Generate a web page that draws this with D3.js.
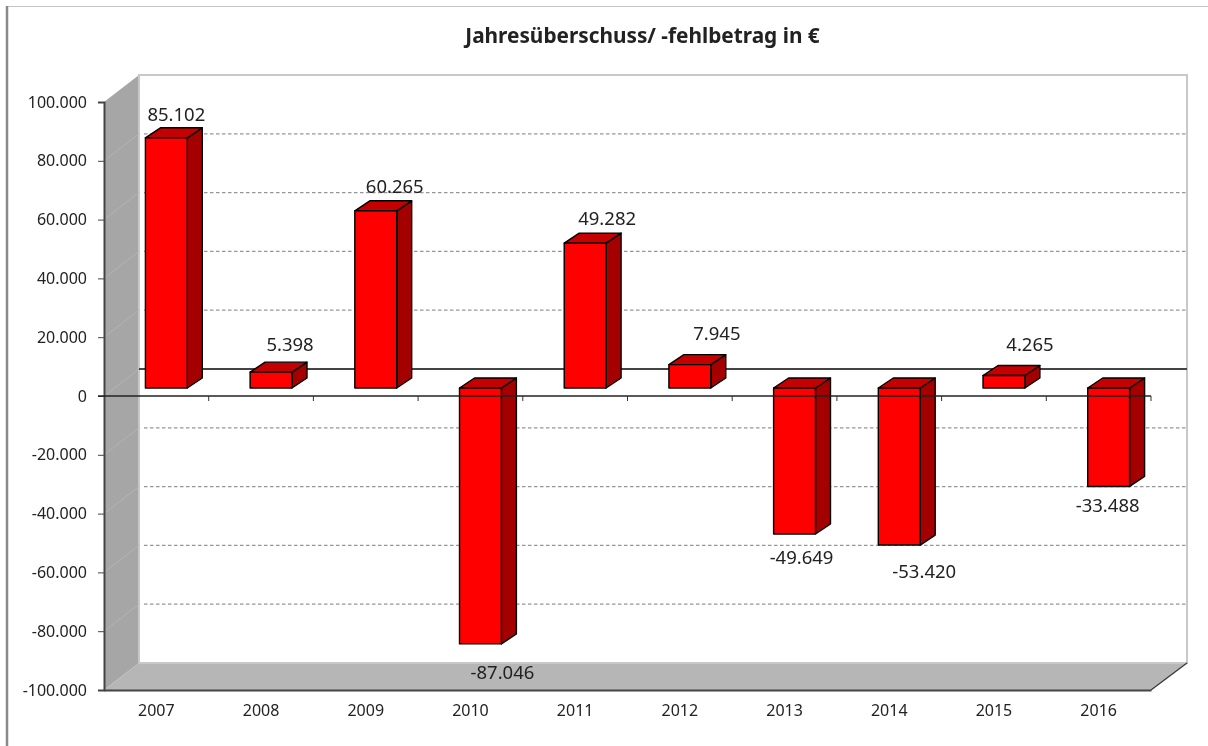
<!DOCTYPE html>
<html><head><meta charset="utf-8">
<script src="https://cdnjs.cloudflare.com/ajax/libs/d3/7.8.5/d3.min.js"></script>
<style>html,body{margin:0;background:#fff;overflow:hidden}svg{display:block;filter:blur(0.5px)}text{font-family:"Noto Sans","Open Sans",sans-serif;fill:#222}</style>
</head><body><svg id="c" width="1208" height="746"></svg>
<script>
const titleText = "Jahresüberschuss/ -fehlbetrag in €";
const years = ["2007","2008","2009","2010","2011","2012","2013","2014","2015","2016"];
const surplus = [85102,5398,60265,-87046,49282,7945,-49649,-53420,4265,-33488];
const yTicks = [100000,80000,60000,40000,20000,0,-20000,-40000,-60000,-80000,-100000];
// manual label placement relative to the bar end (as in the source chart)
const labelDx = [0,9,9,12,12,17,-3,15,16,-11];
const labelDy = [0,-4,-1,0,-1,-8,-5,-2,-7,-9];

const fmt = d => d3.format(",")(d).replace(/,/g,".").replace("\u2212","-");
const svg = d3.select("#c");
const L=104,R=1151,T=102,B=690, wallDx=35,wallDy=-27, barOff=[10,-8], barDepth=[15,-10];
const y = d3.scaleLinear().domain([-100000,100000]).range([B,T]);
const x = d3.scaleBand().domain(years).range([L,R]);
const step = x.step(), bw = step*0.4;
const pts = a => a.map(p=>p.join(",")).join(" ");

// outer frame
svg.append("line").attr("x1",7).attr("x2",1208).attr("y1",6.5).attr("y2",6.5).attr("stroke","#c4c4c4").attr("stroke-width",1);
svg.append("line").attr("x1",7).attr("x2",7).attr("y1",6).attr("y2",746).attr("stroke","#8a8a8a").attr("stroke-width",2.5);

// title
svg.append("text").attr("x",642.5).attr("y",43).attr("text-anchor","middle").attr("font-size",20.8).attr("font-weight",700).text(titleText);

// walls
svg.append("polygon").attr("points",pts([[L,T],[L+wallDx,T+wallDy],[L+wallDx,B+wallDy],[L,B]])).attr("fill","#a6a6a6");
svg.append("polygon").attr("points",pts([[L,B],[L+wallDx,B+wallDy],[R+36,B+wallDy],[R,B]])).attr("fill","#b6b6b6");
// back wall border
svg.append("path").attr("d",`M${L+wallDx},${B+wallDy}V${T+wallDy}H${R+36}V${B+wallDy}H${L+wallDx}`).attr("fill","none").attr("stroke","#c8c8c8").attr("stroke-width",2);
svg.append("line").attr("x1",R).attr("y1",B).attr("x2",R+36).attr("y2",B+wallDy).attr("stroke","#333").attr("stroke-width",1.2);

// gridlines on back wall and diagonal on side wall
const inner = yTicks.filter(d=>Math.abs(d)<100000);
svg.selectAll(".diag").data(inner).join("line").attr("class","diag")
  .attr("x1",L).attr("x2",L+wallDx).attr("y1",d=>y(d)).attr("y2",d=>y(d)+wallDy).attr("stroke","#b4b4b4").attr("stroke-width",1);
svg.selectAll(".grid").data(inner.filter(d=>d!==0)).join("line").attr("class","grid")
  .attr("x1",L+wallDx+5).attr("x2",R+36).attr("y1",d=>y(d)+wallDy).attr("y2",d=>y(d)+wallDy)
  .attr("stroke","#969696").attr("stroke-width",1.2).attr("stroke-dasharray","3.5,2.5");
svg.append("line").attr("x1",L+wallDx).attr("x2",R+36).attr("y1",y(0)+wallDy).attr("y2",y(0)+wallDy).attr("stroke","#444").attr("stroke-width",1.8);

// bars
const base = y(0)+barOff[1];
const bars = svg.selectAll(".bar").data(years.map((c,i)=>({c,v:surplus[i],i}))).join("g").attr("class","bar");
const left = d => x(d.c)+step*0.3+barOff[0];
const topY = d => Math.min(y(d.v)+barOff[1],base);
const botY = d => Math.max(y(d.v)+barOff[1],base);
const stroke = s => s.attr("stroke","#000").attr("stroke-width",1.4).attr("stroke-linejoin","round");
bars.append("polygon").attr("points",d=>{const l=left(d),t=topY(d),b=botY(d),r=l+bw;
  return pts([[r,t],[r+barDepth[0],t+barDepth[1]],[r+barDepth[0],b+barDepth[1]],[r,b]]);}).attr("fill","#a50000").call(stroke);
bars.append("polygon").attr("points",d=>{const l=left(d),t=topY(d),r=l+bw;
  return pts([[l,t],[l+barDepth[0],t+barDepth[1]],[r+barDepth[0],t+barDepth[1]],[r,t]]);}).attr("fill","#c40000").call(stroke);
bars.append("rect").attr("x",left).attr("y",topY).attr("width",bw).attr("height",d=>botY(d)-topY(d)).attr("fill","#ff0000").call(stroke);

// value labels
svg.selectAll(".val").data(years.map((c,i)=>({c,v:surplus[i],i}))).join("text").attr("class","val")
  .attr("font-size",18.5).attr("text-anchor","middle")
  .attr("x",d=>x(d.c)+step/2+20+labelDx[d.i])
  .attr("y",d=>(d.v>=0? y(d.v)+barOff[1]-17 : y(d.v)+barOff[1]+35)+labelDy[d.i])
  .text(d=>fmt(d.v));

// axes
const axColor="#444";
const yAxis = svg.append("g").attr("transform",`translate(${L},0)`).call(d3.axisLeft(y).tickValues(yTicks).tickSize(6).tickPadding(11).tickFormat(fmt));
yAxis.select(".domain").attr("stroke",axColor).attr("stroke-width",2);
yAxis.selectAll("line").attr("stroke",axColor);
yAxis.selectAll("text").attr("font-size",16).attr("font-family",null).style("fill","#222");

const xAxis = svg.append("g").attr("transform",`translate(0,${B})`).call(d3.axisBottom(x).tickSize(0).tickPadding(15));
xAxis.select(".domain").attr("stroke",axColor).attr("stroke-width",2);
xAxis.selectAll("text").attr("font-size",16).style("fill","#222");

// zero axis with ticks at the category boundaries
svg.append("line").attr("x1",L-6).attr("x2",R).attr("y1",y(0)).attr("y2",y(0)).attr("stroke","#222").attr("stroke-width",1.6);
svg.selectAll(".zt").data(years).join("line").attr("class","zt")
  .attr("x1",d=>x(d)+step).attr("x2",d=>x(d)+step).attr("y1",y(0)).attr("y2",y(0)+5).attr("stroke","#333");
</script></body></html>
